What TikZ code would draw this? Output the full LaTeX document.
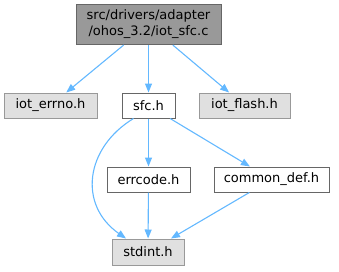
\documentclass[tikz,border=0pt]{standalone}
\usepackage{fontspec}
\setmainfont{DejaVu Sans}
\usetikzlibrary{arrows.meta,calc}
\definecolor{edgeblue}{HTML}{63B8FF}
\definecolor{darkfill}{HTML}{999999}
\definecolor{darkborder}{HTML}{666666}
\definecolor{lightfill}{HTML}{E0E0E0}
\definecolor{lightborder}{HTML}{999999}
\begin{document}
\begin{tikzpicture}[x=1pt,y=-1pt,
  box/.style={rectangle,inner sep=0pt,line width=1pt,font=\fontsize{13}{16}\selectfont,text=black,align=center},
  mainbox/.style={box,fill=darkfill,draw=darkborder},
  sysbox/.style={box,fill=lightfill,draw=lightborder},
  localbox/.style={box,fill=white,draw=darkborder},
  dep/.style={draw=edgeblue,line width=1.1pt,-{Triangle[length=9pt,width=7pt,fill=edgeblue]}}
]
\useasboundingbox (0,0) rectangle (339,271);
\node[mainbox,minimum width=145pt,minimum height=40pt] (top) at (148.5,24.5) {src/drivers/adapter\\/ohos\_3.2/iot\_sfc.c};
\node[sysbox,minimum width=93pt,minimum height=25pt] (errno) at (50.5,105.5) {iot\_errno.h};
\node[localbox,minimum width=53pt,minimum height=25pt] (sfc) at (148.5,105.5) {sfc.h};
\node[sysbox,minimum width=91pt,minimum height=25pt] (flash) at (244.5,105.5) {iot\_flash.h};
\node[localbox,minimum width=83pt,minimum height=25pt] (errcode) at (148.5,179.5) {errcode.h};
\node[localbox,minimum width=115pt,minimum height=25pt] (common) at (271.5,179.5) {common\_def.h};
\node[sysbox,minimum width=72pt,minimum height=26pt] (stdint) at (148,252) {stdint.h};
\draw[dep] (top) -- (errno);
\draw[dep] (top) -- (sfc);
\draw[dep] (top) -- (flash);
\draw[dep] ($(sfc.south)+(-15,0)$) .. controls (85,148) and (78,205) .. ($(stdint.north)+(-22,0)$);
\draw[dep] (sfc) -- (errcode);
\draw[dep] (sfc) -- (common);
\draw[dep] (errcode) -- (stdint);
\draw[dep] (common) -- (stdint);
\end{tikzpicture}
\end{document}
